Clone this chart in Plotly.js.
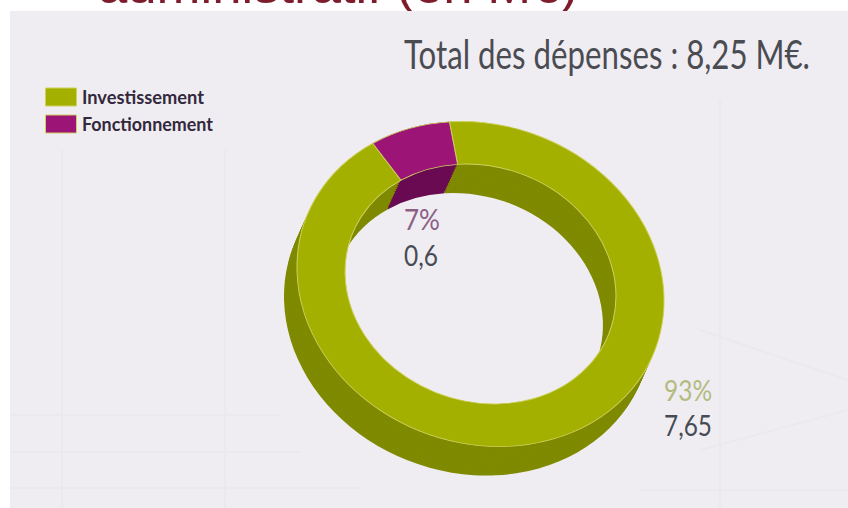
<!DOCTYPE html>
<html>
<head>
<meta charset="utf-8">
<script src="https://cdn.plot.ly/plotly-3.0.1.min.js"></script>
<style>html,body{margin:0;padding:0;background:#fff;overflow:hidden}#chart{width:848px;height:508px}</style>
</head>
<body>
<div id="chart"></div>
<script>
const categories = ["Investissement", "Fonctionnement"];
const amounts = [7.65, 0.6];
const amountLabels = ["7,65", "0,6"];
const shareLabels = ["93%", "7%"];
const topColors = ["#a4b000", "#9c1476"];
const wallColors = ["#7f8a00", "#690a52"];
const chartTitle = "administratif (en M€)";
const totalLabel = "Total des dépenses : 8,25 M€.";

const W = 848, H = 508, CX = 480.5, CY = 284, R = 186.5, TILT = 20, SQUASH = 0.853;
const WALL_STEPS = 14, WALL_DX = -13, WALL_DY = 29;
const wallOffsets = [];
for (let s = WALL_STEPS; s >= 0; s--) wallOffsets.push([WALL_DX * s / WALL_STEPS, WALL_DY * s / WALL_STEPS]);
const domain = {x: [(CX - R) / W, (CX + R) / W], y: [(H - CY - R) / H, (H - CY + R) / H]};
const face = 'Lato, "Liberation Sans", sans-serif';

function ring(colors, isTop) {
  return {
    type: 'pie', labels: categories, values: amounts, hole: 0.738, sort: false,
    direction: 'clockwise', rotation: -27, textinfo: 'none', hoverinfo: 'label+value',
    domain: domain, showlegend: isTop,
    marker: {colors: colors, line: {color: isTop ? '#cfd25e' : 'rgba(0,0,0,0)', width: isTop ? 1 : 0}}
  };
}
const data = wallOffsets.map(() => ring(wallColors, false)).concat([ring(topColors, true)]);

const label = (text, x, y, color, size) => ({
  text: text, x: x / W, y: 1 - y / H, xref: 'paper', yref: 'paper', xanchor: 'left', yanchor: 'middle',
  showarrow: false, font: {family: face, size: size, color: color}
});
// [width, left edge] of each text in the reference; the installed fonts are wider than its condensed face
const fitted = new Map([
  [totalLabel, [406, 404]], [shareLabels[1], [36, 404]], [amountLabels[1], [34, 404]],
  [shareLabels[0], [48, 664]], [amountLabels[0], [48, 664]],
  [categories[0], [122, 82]], [categories[1], [131, 82]], [chartTitle, [480, 98]]
]);
const faintLine = (x0, y0, x1, y1) => ({type: 'line', xref: 'paper', yref: 'paper',
  x0: x0 / W, x1: x1 / W, y0: 1 - y0 / H, y1: 1 - y1 / H,
  line: {color: '#ebe9ee', width: 2}, layer: 'below'});

const layout = {
  width: W, height: H, margin: {l: 0, r: 0, t: 0, b: 0}, paper_bgcolor: '#ffffff',
  title: {text: chartTitle, x: 338 / W, xanchor: 'center', y: 0.995, yanchor: 'bottom', yref: 'container',
          font: {family: '"Liberation Sans", sans-serif', size: 50, color: '#7d1d2c'}},
  shapes: [{type: 'rect', xref: 'paper', yref: 'paper', x0: 10 / W, x1: 1, y0: 0, y1: 1 - 11 / H,
            fillcolor: '#efedf2', line: {width: 0}, layer: 'below'},
    faintLine(62, 150, 62, 508), faintLine(225, 150, 225, 508), faintLine(10, 415, 280, 415),
    faintLine(10, 452, 300, 452), faintLine(10, 488, 360, 488), faintLine(720, 100, 720, 508),
    faintLine(640, 490, 848, 490), faintLine(700, 330, 848, 380), faintLine(700, 450, 848, 410)],
  legend: {x: 41 / W, y: 1 - 84 / H, xanchor: 'left', yanchor: 'top', bgcolor: 'rgba(0,0,0,0)',
           font: {family: face, size: 18, color: '#33283c', weight: 700}},
  annotations: [
    label(totalLabel, 404, 54, '#4a4c52', 40),
    label(shareLabels[1], 404, 219, '#8c5f87', 28),
    label(amountLabels[1], 404, 255, '#474b55', 28),
    label(shareLabels[0], 664, 390, '#b3bb80', 28),
    label(amountLabels[0], 664, 425, '#474b55', 28)
  ]
};

Plotly.newPlot('chart', data, layout, {displayModeBar: false, staticPlot: true}).then(gd => {
  // tilt each ring into the reference's perspective
  gd.querySelectorAll('.pielayer .trace').forEach((g, i) => {
    const [dx, dy] = wallOffsets[i] || [0, 0];
    g.setAttribute('transform',
      `translate(${CX + dx},${CY + dy}) rotate(${TILT}) scale(1,${SQUASH}) translate(${-CX},${-CY})`);
  });
  // wide legend swatches and roomier rows
  gd.querySelectorAll('.legend .legendpie').forEach(p => p.setAttribute('d', 'M15.5,9H-15.5V-9H15.5Z'));
  gd.querySelectorAll('.legend .traces').forEach((t, i) => t.setAttribute('transform', `translate(0,${13 + i * 27})`));
  const bg = gd.querySelector('.legend .scrollbox'); if (bg) bg.removeAttribute('clip-path');
  // condense the texts to the reference's widths and put them back on their left edges
  gd.querySelectorAll('.annotation-text, .legendtext, .gtitle').forEach(t => {
    const fit = fitted.get(t.textContent);
    if (!fit) return;
    t.setAttribute('textLength', fit[0]);
    t.setAttribute('lengthAdjust', 'spacingAndGlyphs');
    const box = t.getBoundingClientRect();
    const prior = t.getAttribute('transform') || '';
    t.setAttribute('transform', `translate(${fit[1] - box.left},0) ${prior}`);
  });
  // the panel hides all but the foot of the page heading
  const svg = gd.querySelector('.infolayer').ownerSVGElement;
  const ns = 'http://www.w3.org/2000/svg';
  const cp = document.createElementNS(ns, 'clipPath'); cp.id = 'headClip';
  const r = document.createElementNS(ns, 'rect');
  r.setAttribute('x', -200); r.setAttribute('y', -100); r.setAttribute('width', W + 400); r.setAttribute('height', 111);
  cp.appendChild(r); svg.appendChild(cp);
  const t = gd.querySelector('.gtitle'); if (t) t.setAttribute('clip-path', 'url(#headClip)');
});
</script>
</body>
</html>
